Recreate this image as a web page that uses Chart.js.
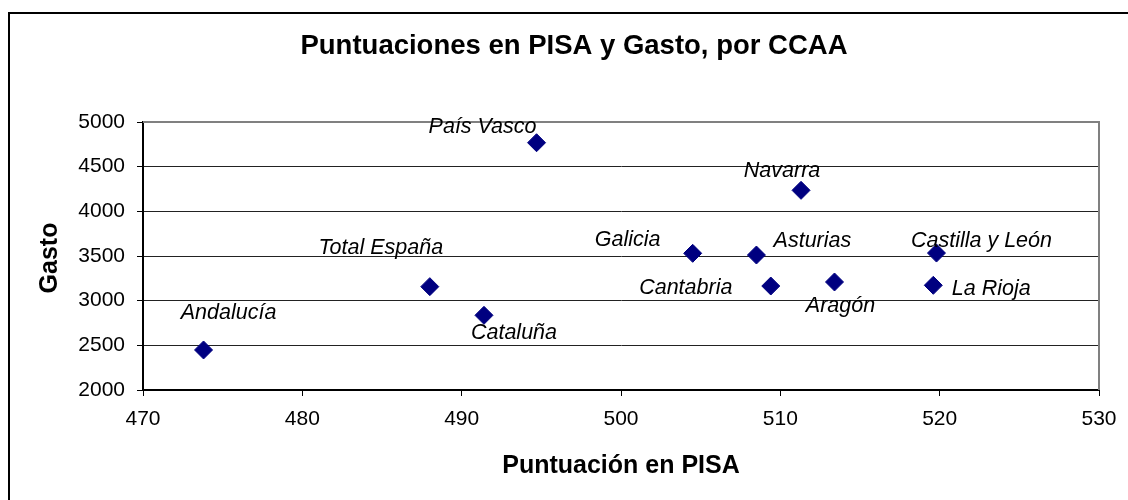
<!DOCTYPE html>
<html>
<head>
<meta charset="utf-8">
<script src="https://cdn.jsdelivr.net/npm/chart.js@4.4.0/dist/chart.umd.min.js"></script>
<style>
  html, body { margin: 0; padding: 0; background: #fff; }
  canvas { display: block; }
</style>
</head>
<body>
<canvas id="pisaChart" width="1128" height="500"></canvas>
<script>
// Datos: comunidades, puntuación PISA y gasto
const regiones = ['Andalucía', 'País Vasco', 'Total España', 'Cataluña', 'Galicia', 'Asturias',
    'Cantabria', 'Navarra', 'Aragón', 'Castilla y León', 'La Rioja'];
const puntuacion = [473.8, 494.7, 488.0, 491.4, 504.5, 508.5, 509.4, 511.3, 513.4, 519.8, 519.6];
const gasto = [2448, 4768, 3157, 2836, 3530, 3511, 3164, 4235, 3209, 3533, 3172];

const titulo = 'Puntuaciones en PISA y Gasto, por CCAA';
const tituloX = 'Puntuación en PISA';
const tituloY = 'Gasto';

const fuente = '"Liberation Sans", Arial, sans-serif';

// desplazamiento de cada etiqueta respecto a su punto (px)
const desplazamientos = {
    'Andalucía': [25, -37],
    'País Vasco': [-54, -16],
    'Total España': [-49, -39],
    'Cataluña': [30, 18],
    'Galicia': [-65, -13],
    'Asturias': [56, -14],
    'Cantabria': [-85, 2],
    'Navarra': [-19, -19],
    'Aragón': [6, 24],
    'Castilla y León': [45, -12],
    'La Rioja': [58, 4]
};

const puntos = puntuacion.map((p, i) => ({ x: p, y: gasto[i] }));

const extras = {
    id: 'extras',
    afterDraw(chart) {
        const ctx = chart.ctx;
        const area = chart.chartArea;
        const sx = chart.scales.x;
        const sy = chart.scales.y;
        ctx.save();

        // marco exterior
        ctx.strokeStyle = '#000';
        ctx.lineWidth = 2;
        ctx.beginPath();
        ctx.moveTo(9, 500);
        ctx.lineTo(9, 13);
        ctx.lineTo(1128, 13);
        ctx.stroke();

        // borde gris del área de trazado
        ctx.strokeStyle = '#808080';
        ctx.lineWidth = 2;
        ctx.beginPath();
        ctx.moveTo(area.left, area.top);
        ctx.lineTo(area.right, area.top);
        ctx.lineTo(area.right, area.bottom);
        ctx.stroke();

        // título
        ctx.fillStyle = '#000';
        ctx.textAlign = 'center';
        ctx.textBaseline = 'middle';
        ctx.font = 'bold 27.5px ' + fuente;
        ctx.fillText(titulo, 574, 46);

        // títulos de ejes
        ctx.font = 'bold 25px ' + fuente;
        ctx.fillText(tituloX, 621, 466);
        ctx.save();
        ctx.translate(50, 258);
        ctx.rotate(-Math.PI / 2);
        ctx.fillText(tituloY, 0, 0);
        ctx.restore();

        // etiquetas de los puntos
        ctx.font = 'italic 21.5px ' + fuente;
        regiones.forEach((r, i) => {
            const d = desplazamientos[r];
            const px = sx.getPixelForValue(puntuacion[i]);
            const py = sy.getPixelForValue(gasto[i]);
            ctx.fillText(r, px + d[0], py + d[1]);
        });
        ctx.restore();
    }
};

const config = {
    type: 'scatter',
    data: {
        datasets: [{
            label: 'CCAA',
            data: puntos,
            pointStyle: 'rectRot',
            pointRadius: 9,
            pointHoverRadius: 9,
            backgroundColor: '#000080',
            borderColor: '#000080',
            borderWidth: 1
        }]
    },
    options: {
        responsive: false,
        animation: false,
        devicePixelRatio: 1,
        layout: { padding: { left: 0, top: 122, right: 29, bottom: 0 } },
        plugins: {
            legend: { display: false },
            title: { display: false },
            tooltip: { enabled: false }
        },
        scales: {
            x: {
                type: 'linear',
                min: 470,
                max: 530,
                afterFit(scale) { scale.height = 110; },
                ticks: {
                    stepSize: 10,
                    color: '#000',
                    padding: 11,
                    font: { family: fuente, size: 21 }
                },
                grid: {
                    drawOnChartArea: false,
                    drawTicks: true,
                    tickLength: 6,
                    color: '#000'
                },
                border: { color: '#000', width: 2 }
            },
            y: {
                min: 2000,
                max: 5000,
                afterFit(scale) { scale.width = 143; },
                ticks: {
                    stepSize: 500,
                    color: '#000',
                    padding: 12,
                    font: { family: fuente, size: 21 },
                    callback: (v) => String(v)
                },
                grid: {
                    color: '#222',
                    tickLength: 6,
                    tickColor: '#000'
                },
                border: { color: '#000', width: 2 }
            }
        }
    },
    plugins: [extras]
};

new Chart(document.getElementById('pisaChart').getContext('2d'), config);
</script>
</body>
</html>
